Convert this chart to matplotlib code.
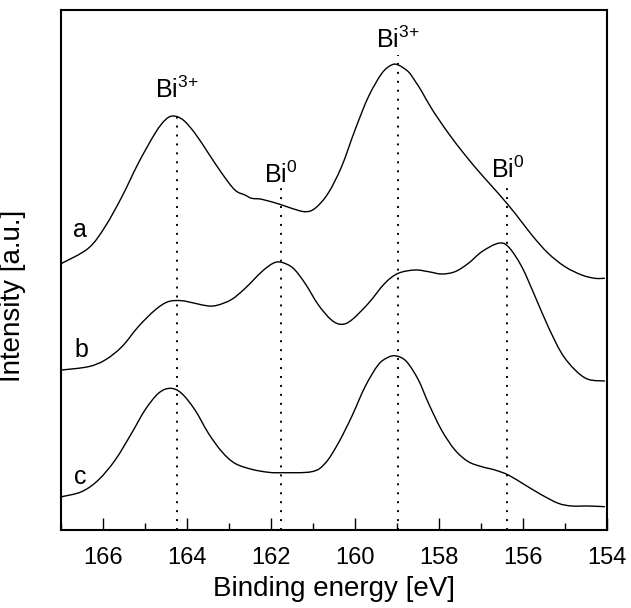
import numpy as np
import matplotlib
matplotlib.use("Agg")
import matplotlib.pyplot as plt
from matplotlib.path import Path
from matplotlib.patches import PathPatch

plt.rcParams['font.family'] = ['Liberation Sans', 'DejaVu Sans']
plt.rcParams['mathtext.fontset'] = 'custom'
plt.rcParams['mathtext.rm'] = 'Liberation Sans'
plt.rcParams['mathtext.it'] = 'Liberation Sans'

# ---- data (binding energy in eV, intensity in arbitrary units) ----
energy_a = [166.98, 166.35, 165.95, 165.55, 165.16, 164.76, 164.52, 164.33, 164.09, 163.81,
            163.49, 163.17, 162.86, 162.62, 162.46, 162.22, 161.79, 161.51, 161.19, 160.95,
            160.64, 160.32, 160.00, 159.68, 159.36, 159.13, 158.97, 158.73, 158.57, 158.41,
            158.17, 157.78, 157.38, 156.98, 156.59, 156.19, 155.79, 155.40, 155.00, 154.60,
            154.29, 154.05]
intensity_a = [266.7, 281.7, 303.3, 333.3, 366.7, 396.7, 410.0, 414.0, 410.0, 396.7,
               376.7, 356.7, 340.0, 335.0, 331.7, 330.7, 325.7, 321.7, 318.3, 321.7,
               336.7, 363.3, 400.0, 433.3, 456.7, 465.0, 465.0, 458.3, 449.0, 438.5,
               421.0, 397.0, 375.0, 355.0, 336.7, 316.7, 295.0, 276.7, 263.3, 255.0,
               251.7, 251.7]

energy_b = [166.98, 166.35, 165.95, 165.55, 165.16, 164.76, 164.45, 164.13, 163.81, 163.49,
            163.26, 162.94, 162.62, 162.22, 161.95, 161.75, 161.47, 161.19, 160.87, 160.56,
            160.32, 160.08, 159.68, 159.29, 158.97, 158.57, 158.25, 157.94, 157.62, 157.30,
            156.98, 156.59, 156.35, 156.03, 155.71, 155.40, 155.08, 154.76, 154.45, 154.05]
intensity_b = [160.0, 163.3, 170.0, 183.3, 203.3, 220.0, 228.3, 229.3, 226.7, 224.0,
               225.0, 230.5, 241.5, 258.3, 266.7, 267.7, 261.7, 246.7, 225.0, 210.0,
               205.7, 210.0, 226.7, 246.7, 256.7, 260.0, 258.3, 256.0, 258.3, 266.7,
               278.3, 286.7, 283.3, 263.3, 233.3, 203.3, 176.7, 160.0, 150.7, 149.0]

energy_c = [166.98, 166.51, 166.11, 165.71, 165.32, 165.00, 164.68, 164.40, 164.13, 163.81,
            163.49, 163.17, 162.86, 162.46, 162.06, 161.75, 161.03, 160.71, 160.40, 160.08,
            159.76, 159.45, 159.21, 159.01, 158.77, 158.49, 158.25, 157.94, 157.62, 157.30,
            156.98, 156.67, 156.35, 155.95, 155.55, 155.16, 154.84, 154.45, 154.05]
intensity_c = [33.3, 38.3, 50.0, 70.0, 96.7, 120.0, 136.7, 141.7, 136.7, 120.0,
               96.7, 78.3, 66.7, 60.7, 57.7, 57.3, 58.3, 66.7, 86.7, 113.3,
               143.3, 165.0, 172.7, 174.0, 168.3, 150.0, 126.7, 100.0, 80.0, 68.3,
               63.3, 60.0, 55.0, 45.0, 35.0, 26.7, 24.0, 24.0, 23.3]

series_names = ['a', 'b', 'c']
name_pos_x = [166.55, 166.51, 166.55]
name_pos_y = [300.0, 180.0, 53.0]

peak_energies = [164.25, 161.77, 158.98, 156.37]
peak_labels = [r'Bi$^{\text{3+}}$', r'Bi$^{\text{0}}$', r'Bi$^{\text{3+}}$', r'Bi$^{\text{0}}$']
peak_line_tops = [420.0, 343.0, 475.0, 345.0]
peak_label_y = [432.0, 347.0, 482.0, 352.0]

xticks_major = [166, 164, 162, 160, 158, 156, 154]
xticks_minor = [167, 165, 163, 161, 159, 157, 155]


def smooth_path(xs, ys):
    """Catmull-Rom spline through the read points, drawn as cubic Bezier segments."""
    p = np.column_stack([xs, ys]).astype(float)
    n = len(p)
    verts = [p[0]]
    codes = [Path.MOVETO]
    for i in range(n - 1):
        p0 = p[i - 1] if i > 0 else p[i]
        p1 = p[i]
        p2 = p[i + 1]
        p3 = p[i + 2] if i + 2 < n else p[i + 1]
        c1 = p1 + (p2 - p0) / 6.0
        c2 = p2 - (p3 - p1) / 6.0
        verts.extend([c1, c2, p2])
        codes.extend([Path.CURVE4, Path.CURVE4, Path.CURVE4])
    return Path(verts, codes)


# ---- figure ----
fig = plt.figure(figsize=(6.31, 6.08), dpi=100)
ax = fig.add_axes([61/631, 78/608, 546/631, 520/608])

for e, i in [(energy_a, intensity_a), (energy_b, intensity_b), (energy_c, intensity_c)]:
    ax.add_patch(PathPatch(smooth_path(e, i), facecolor='none', edgecolor='black',
                           lw=1.0, joinstyle='round'))

for xe, top, lab, ly in zip(peak_energies, peak_line_tops, peak_labels, peak_label_y):
    ax.plot([xe, xe], [0, top], color='black', lw=1.4, linestyle=(0, (1.0, 3.6)))
    ax.text(xe, ly, lab, ha='center', va='baseline', fontsize=18)

for n, x, y in zip(series_names, name_pos_x, name_pos_y):
    ax.text(x, y, n, ha='center', va='center', fontsize=18)

ax.set_xlim(167, 154)
ax.set_ylim(0, 520)
ax.set_xticks(xticks_major)
ax.set_xticks(xticks_minor, minor=True)
ax.set_xticklabels([str(t) for t in xticks_major])
ax.set_yticks([])
ax.tick_params(axis='x', which='major', direction='in', length=9, width=1.0,
               labelsize=17, pad=12)
ax.tick_params(axis='x', which='minor', direction='in', length=5, width=1.0)
for sp in ax.spines.values():
    sp.set_linewidth(1.5)

ax.set_xlabel('Binding energy [eV]', fontsize=20, labelpad=5)
ax.set_ylabel('Intensity [a.u.]', fontsize=20)
ax.yaxis.set_label_coords(-0.065, 0.45)

fig.savefig('out.png', dpi=100)
